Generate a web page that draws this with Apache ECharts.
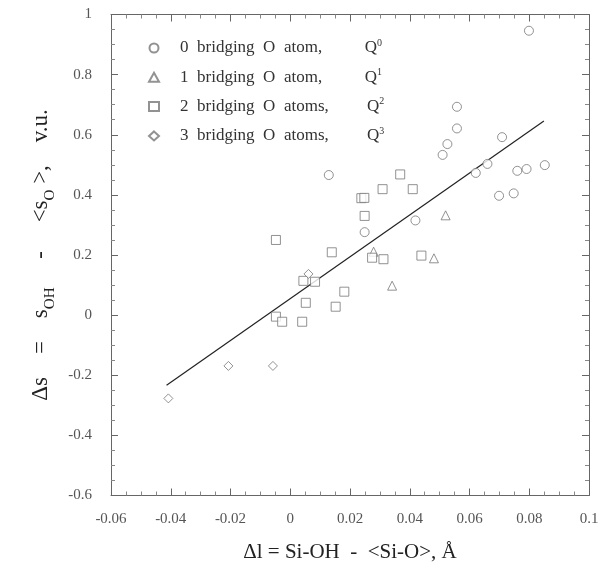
<!DOCTYPE html>
<html><head><meta charset="utf-8">
<script src="https://cdn.jsdelivr.net/npm/echarts@6/dist/echarts.min.js"></script>
<style>html,body{margin:0;padding:0;background:#fff}#c{width:607px;height:571px}</style>
</head><body><div id="c"></div>
<script>
// Data
const q0 = [[0.0799,0.946],[0.0558,0.693],[0.0558,0.621],[0.0709,0.592],[0.0526,0.569],[0.0510,0.533],[0.0660,0.503],[0.0621,0.473],[0.0760,0.480],[0.0791,0.486],[0.0852,0.499],[0.0699,0.397],[0.0748,0.405],[0.0129,0.466],[0.0249,0.276],[0.0419,0.315]];
const q1 = [[0.0279,0.211],[0.0481,0.189],[0.0341,0.098],[0.0520,0.332]];
const q2 = [[0.0368,0.468],[0.0309,0.419],[0.0410,0.419],[0.0238,0.389],[0.0248,0.390],[0.0249,0.330],[-0.0048,0.250],[0.0139,0.209],[0.0274,0.191],[0.0312,0.186],[0.0439,0.198],[0.0044,0.114],[0.0083,0.111],[0.0181,0.078],[0.0052,0.041],[0.0152,0.028],[-0.0048,-0.005],[-0.0027,-0.022],[0.0040,-0.022]];
const q3 = [[-0.0408,-0.277],[-0.0207,-0.169],[-0.0058,-0.169],[0.0061,0.137]];
const fitLine = [[-0.0414,-0.233],[0.0849,0.646]];
const seriesNames = ['Q0','Q1','Q2','Q3'];
const legendLabels = ['0  bridging  O  atom,          Q', '1  bridging  O  atom,          Q', '2  bridging  O  atoms,         Q', '3  bridging  O  atoms,         Q'];
const legendSup = ['0','1','2','3'];
const xRange = [-0.06, 0.1], xStep = 0.02;
const yRange = [-0.6, 1], yStep = 0.2;

const FONT = 'Liberation Serif';
const GRAY = '#777';
const AX = '#666';
const mk = (name, data, symbol, size) => ({
  name, type: 'scatter', data, symbol, symbolSize: size, z: 3,
  itemStyle: { color: '#fff', borderColor: GRAY, borderWidth: 1 }
});
const fmt = v => String(+v.toFixed(2));
const axisCommon = (min, max, interval) => ({
  type: 'value', min, max, interval,
  axisLine: { show: true, onZero: false, lineStyle: { color: AX, width: 1 } },
  axisTick: { show: true, inside: true, length: 7, lineStyle: { color: AX } },
  minorTick: { show: true, splitNumber: 4, length: 4, lineStyle: { color: '#888' } },
  splitLine: { show: false }
});
const chart = echarts.init(document.getElementById('c'));
chart.setOption({
  backgroundColor: '#fff',
  animation: false,
  grid: { left: 111, right: 18, top: 14.5, bottom: 75.5 },
  legend: {
    orient: 'vertical', left: 143, top: 33,
    itemWidth: 10, itemHeight: 9, itemGap: 9.3,
    data: seriesNames,
    formatter: n => { const i = seriesNames.indexOf(n); return '{t|' + legendLabels[i] + '}{s|' + legendSup[i] + '}'; },
    textStyle: {
      fontFamily: FONT, fontSize: 17, color: '#333', lineHeight: 20,
      rich: { t: { fontFamily: FONT, fontSize: 17, color: '#333', padding: [0, 0, 0, 16] }, s: { fontFamily: FONT, fontSize: 10, color: '#333', verticalAlign: 'top', lineHeight: 10 } }
    }
  },
  xAxis: [
    Object.assign(axisCommon(xRange[0], xRange[1], xStep), {
      position: 'bottom',
      axisLabel: { formatter: fmt, fontFamily: FONT, fontSize: 15, color: '#555', margin: 16 },
      name: '{n|Δl = Si-OH  -  <Si-O>, Å}', nameLocation: 'middle', nameGap: 46,
      nameTextStyle: { rich: { n: { fontFamily: FONT, fontSize: 21, color: '#222' } } }
    }),
    Object.assign(axisCommon(xRange[0], xRange[1], xStep), { position: 'top', axisLabel: { show: false } })
  ],
  yAxis: [
    Object.assign(axisCommon(yRange[0], yRange[1], yStep), {
      position: 'left',
      axisLabel: { formatter: fmt, fontFamily: FONT, fontSize: 15, color: '#555', margin: 19 },
      name: '{n|Δs    =    s}{b|OH}{n|     -     <s}{b|O}{n| >,    v.u.}', nameLocation: 'middle', nameGap: 50,
      nameTextStyle: { rich: {
        n: { fontFamily: FONT, fontSize: 23, color: '#222', verticalAlign: 'top', lineHeight: 24 },
        b: { fontFamily: FONT, fontSize: 15, color: '#222', verticalAlign: 'top', lineHeight: 16, padding: [13, 0, 0, 0] }
      } }
    }),
    Object.assign(axisCommon(yRange[0], yRange[1], yStep), { position: 'right', axisLabel: { show: false } })
  ],
  series: [
    mk('Q0', q0, 'circle', 9),
    mk('Q1', q1, 'triangle', 9),
    mk('Q2', q2, 'rect', 9),
    mk('Q3', q3, 'diamond', 9),
    { name: 'fit', type: 'line', data: fitLine, symbol: 'none', z: 2,
      lineStyle: { color: '#222', width: 1.2 } }
  ]
});
</script></body></html>
